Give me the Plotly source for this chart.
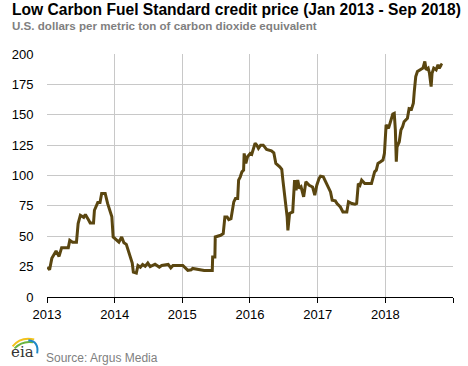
import plotly.graph_objects as go

dates = [
    "2013-01-04", "2013-01-15", "2013-01-27", "2013-02-19", "2013-03-07", "2013-03-21",
    "2013-04-26", "2013-05-04", "2013-05-19", "2013-06-09", "2013-06-18", "2013-06-30",
    "2013-07-18", "2013-07-27", "2013-08-15", "2013-08-22", "2013-09-09", "2013-09-14",
    "2013-10-02", "2013-10-14", "2013-10-23", "2013-11-11", "2013-11-24", "2013-12-17",
    "2013-12-24", "2014-01-16", "2014-01-24", "2014-02-08", "2014-02-20", "2014-03-05",
    "2014-03-22", "2014-04-06", "2014-04-12", "2014-04-28", "2014-05-07", "2014-05-20",
    "2014-06-01", "2014-06-15", "2014-06-29", "2014-07-12", "2014-08-07", "2014-08-30",
    "2014-09-12", "2014-10-17", "2014-10-31", "2014-11-12", "2015-01-04", "2015-01-13",
    "2015-01-31", "2015-02-18", "2015-02-26", "2015-04-29", "2015-06-12", "2015-06-14",
    "2015-06-26", "2015-06-28", "2015-07-27", "2015-08-10", "2015-08-19", "2015-08-31",
    "2015-09-09", "2015-09-21", "2015-09-27", "2015-10-06", "2015-10-15", "2015-10-27",
    "2015-11-01", "2015-11-10", "2015-11-19", "2015-11-28", "2015-12-01", "2015-12-10",
    "2015-12-19", "2016-01-03", "2016-01-11", "2016-01-20", "2016-01-29", "2016-02-07",
    "2016-02-16", "2016-02-28", "2016-03-13", "2016-03-31", "2016-04-26", "2016-05-09",
    "2016-05-20", "2016-06-10", "2016-06-21", "2016-06-27", "2016-07-10", "2016-07-20",
    "2016-07-24", "2016-08-02", "2016-08-19", "2016-08-29", "2016-09-06", "2016-09-15",
    "2016-09-24", "2016-10-03", "2016-10-17", "2016-10-29", "2016-11-16", "2016-12-04",
    "2016-12-16", "2016-12-27", "2017-01-08", "2017-01-16", "2017-01-31", "2017-02-12",
    "2017-02-25", "2017-03-11", "2017-03-20", "2017-04-06", "2017-04-15", "2017-05-03",
    "2017-05-17", "2017-06-07", "2017-06-16", "2017-07-04", "2017-07-21", "2017-07-30",
    "2017-08-08", "2017-08-17", "2017-08-26", "2017-09-12", "2017-10-18", "2017-10-27",
    "2017-11-04", "2017-11-13", "2017-11-22", "2017-12-06", "2017-12-19", "2017-12-27",
    "2018-01-05", "2018-01-18", "2018-01-28", "2018-02-10", "2018-02-18", "2018-02-24",
    "2018-03-01", "2018-03-05", "2018-03-17", "2018-03-26", "2018-04-04", "2018-04-12",
    "2018-04-30", "2018-05-09", "2018-05-22", "2018-06-01", "2018-06-06", "2018-06-14",
    "2018-06-23", "2018-07-10", "2018-07-23", "2018-08-02", "2018-08-09", "2018-08-20",
    "2018-08-27", "2018-09-05", "2018-09-10", "2018-09-19", "2018-10-02", "2018-10-12",
    "2018-10-19", "2018-10-30", "2018-11-04",
]

prices = [
    24.6, 22.4, 31.8, 37.8, 33.4, 40.6,
    40.6, 46.6, 45.0, 45.0, 60.4, 67.3,
    65.6, 68.0, 63.0, 61.0, 61.0, 71.4,
    77.7, 77.7, 85.2, 85.2, 77.0, 66.0,
    49.4, 46.6, 45.2, 49.4, 44.7, 43.3,
    35.7, 27.9, 20.5, 19.7, 26.0, 24.6,
    26.8, 25.3, 27.9, 25.0, 27.0, 24.6,
    26.0, 26.8, 24.0, 26.0, 26.0, 24.6,
    21.9, 22.4, 23.5, 21.9, 21.9, 32.9,
    32.9, 49.4, 50.8, 52.2, 65.9, 65.9,
    63.7, 64.5, 70.0, 78.3, 81.0, 81.0,
    96.2, 98.9, 103.0, 104.4, 118.2, 109.9,
    115.4, 118.2, 117.5, 122.3, 126.5, 125.0,
    122.3, 125.0, 125.0, 121.5, 120.3, 118.7,
    109.9, 107.1, 105.0, 96.2, 79.7, 65.9,
    54.9, 68.7, 70.0, 96.2, 87.9, 96.2,
    89.3, 90.6, 82.4, 94.8, 92.0, 90.6,
    83.8, 92.0, 97.5, 99.5, 98.9, 94.8,
    90.6, 86.5, 79.7, 79.1, 76.9, 74.1,
    70.0, 70.0, 78.3, 76.9, 76.3, 76.9,
    93.4, 92.0, 96.2, 93.4, 93.4, 98.9,
    103.0, 104.4, 109.9, 111.3, 112.7, 118.2,
    141.6, 138.8, 144.3, 150.6, 151.2, 137.4,
    111.3, 123.6, 127.8, 137.4, 140.2, 144.3,
    147.1, 155.0, 154.5, 159.5, 169.0, 181.4,
    185.6, 187.0, 188.4, 193.8, 187.0, 188.4,
    184.2, 173.2, 184.2, 188.4, 187.0, 191.1,
    188.4, 191.1, 190.6,
]

year_ticks = ["2013-01-01", "2014-01-01", "2015-01-01", "2016-01-01",
              "2017-01-01", "2018-01-01", "2019-01-01"]
year_labels = ["2013", "2014", "2015", "2016", "2017", "2018", ""]
y_ticks = [0, 25, 50, 75, 100, 125, 150, 175, 200]

title_text = "Low Carbon Fuel Standard credit price (Jan 2013 - Sep 2018)"
subtitle_text = "U.S. dollars per metric ton of carbon dioxide equivalent"
source_text = "Source: Argus Media"

FONT = "Liberation Sans, Arial, sans-serif"

fig = go.Figure()
fig.add_trace(go.Scatter(
    x=dates, y=prices, mode="lines",
    line=dict(color="#5A4610", width=3),
    hoverinfo="x+y", showlegend=False,
))

fig.update_layout(
    width=468, height=366,
    margin=dict(l=40, r=15, t=54, b=69, pad=0),
    paper_bgcolor="white", plot_bgcolor="white",
    font=dict(family=FONT, size=13, color="black"),
    xaxis=dict(
        type="date",
        range=["2013-01-01", "2019-01-01"],
        tickvals=year_ticks, ticktext=year_labels,
        showgrid=True, gridcolor="#C8C8C8", gridwidth=1,
        showline=True, linecolor="black", linewidth=1,
        ticks="outside", ticklen=5, tickcolor="black", tickwidth=1,
        tickfont=dict(size=13, color="black"),
        zeroline=False, fixedrange=True,
    ),
    yaxis=dict(
        range=[0, 200],
        tickvals=y_ticks,
        showgrid=True, gridcolor="#C8C8C8", gridwidth=1,
        showline=False, zeroline=False,
        ticks="outside", ticklen=10, tickcolor="rgba(0,0,0,0)",
        tickfont=dict(size=13, color="black"),
        fixedrange=True,
    ),
)

# Title and subtitle
fig.add_annotation(text="<b>" + title_text + "</b>", xref="paper", yref="paper",
                   x=-0.092, y=1.225, xanchor="left", yanchor="top", showarrow=False,
                   font=dict(family=FONT, size=15.6, color="black"))
fig.add_annotation(text="<b>" + subtitle_text + "</b>", xref="paper", yref="paper",
                   x=-0.092, y=1.152, xanchor="left", yanchor="top", showarrow=False,
                   font=dict(family=FONT, size=11.6, color="#7F7F7F"))

# Source
fig.add_annotation(text=source_text, xref="paper", yref="paper",
                   x=-0.008, y=-0.216, xanchor="left", yanchor="top", showarrow=False,
                   font=dict(family=FONT, size=12, color="#7F7F7F"))

# eia logo (text + arcs)
fig.add_annotation(text="eia", xref="paper", yref="paper",
                   x=-0.094, y=-0.272, xanchor="left", yanchor="bottom", showarrow=False,
                   font=dict(family="DejaVu Serif, serif", size=15, color="#333333"))


def px_path(points):
    # convert pixel (x, y) positions of the decorative logo into paper coords
    out = []
    for cmd, pts in points:
        coords = " ".join(f"{(px - 40) / 413:.4f},{(296.7 - py) / 242.7:.4f}" for px, py in pts)
        out.append(f"{cmd} {coords}")
    return " ".join(out)


logo_arcs = [
    ([("M", [(5, 346)]), ("Q", [(13, 336), (27, 339)])], "#F2C21B"),
    ([("M", [(7, 348)]), ("Q", [(15, 340), (26, 342)])], "#6AB43E"),
    ([("M", [(21, 340)]), ("Q", [(32, 341), (30, 353)])], "#1E88C8"),
]
for pts, col in logo_arcs:
    fig.add_shape(type="path", path=px_path(pts), xref="paper", yref="paper",
                  line=dict(color=col, width=2))

fig.write_html("out.html", config={"displayModeBar": False},
               post_script="document.body.style.margin='0';")
